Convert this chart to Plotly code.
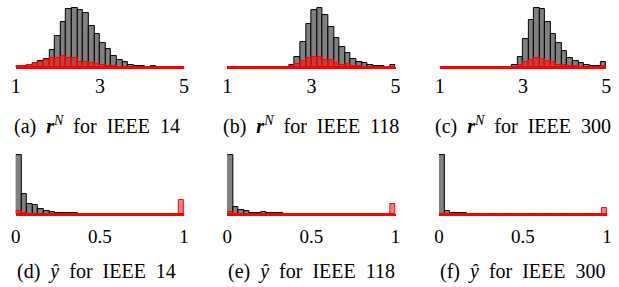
import numpy as np
import plotly.graph_objects as go

# ---------------- data (30 bins per histogram) ----------------
rn_range = [1, 5]
yh_range = [0, 1]
n_bins = 30

rn14_all = [1, 4, 7, 13, 18, 25, 52, 92, 135, 174, 178, 171, 162, 124, 99,
            72, 54, 33, 21, 16, 6, 4, 4, 1, 2, 1, 1, 0, 1, 0]
rn14_red = [2, 4, 7, 13, 16, 20, 27, 27, 33, 27, 27, 16, 16, 13, 9,
            7, 4, 4, 1, 1, 1, 0, 0, 0, 0, 0, 0, 0, 0, 0]
rn118_all = [0, 0, 0, 0, 0, 0, 0, 0, 0, 0, 1, 6, 30, 75, 130,
             171, 178, 157, 121, 88, 60, 42, 25, 16, 11, 7, 4, 3, 1, 7]
rn118_red = [0, 0, 0, 0, 0, 0, 0, 0, 0, 0, 0, 4, 10, 18, 26,
             30, 30, 22, 21, 12, 6, 8, 4, 3, 1, 1, 0, 0, 0, 1]
rn300_all = [0, 0, 0, 0, 0, 0, 0, 0, 0, 0, 0, 0, 0, 6, 30,
             83, 142, 178, 174, 135, 98, 72, 49, 26, 18, 11, 6, 3, 3, 15]
rn300_red = [0, 0, 0, 0, 0, 0, 0, 0, 0, 0, 0, 0, 0, 1, 5,
             16, 21, 27, 24, 17, 15, 6, 5, 3, 3, 1, 1, 0, 0, 4]

yh14_all = [177, 59, 29, 28, 14, 9, 7, 3, 3, 3, 3, 1, 1, 1, 1,
            1, 1, 0, 0, 1, 1, 0, 1, 1, 0, 0, 0, 1, 1, 0]
yh14_red = [9, 3, 1, 1, 1, 0, 0, 0, 0, 0, 0, 0, 0, 0, 0,
            0, 0, 0, 0, 0, 0, 0, 0, 0, 0, 0, 0, 0, 0, 42]
yh118_all = [177, 22, 13, 9, 4, 3, 6, 3, 3, 2, 1, 1, 1, 1, 1,
             0, 0, 0, 0, 0, 0, 0, 0, 0, 0, 0, 1, 1, 0, 0]
yh118_red = [6, 1, 0, 0, 0, 0, 0, 0, 0, 0, 0, 0, 0, 0, 0,
             0, 0, 0, 0, 0, 0, 0, 0, 0, 0, 0, 0, 0, 0, 29]
yh300_all = [177, 9, 4, 2, 2, 1, 1, 1, 0, 0, 0, 0, 0, 0, 0,
             0, 0, 0, 0, 0, 0, 0, 0, 0, 0, 0, 0, 0, 0, 0]
yh300_red = [1, 0, 0, 0, 0, 0, 0, 0, 0, 0, 0, 0, 0, 0, 0,
             0, 0, 0, 0, 0, 0, 0, 0, 0, 0, 0, 0, 0, 0, 17]

rn_ticks = [1, 3, 5]
rn_ticktext = ["1", "3", "5"]
yh_ticks = [0, 0.5, 1]
yh_ticktext = ["0", "0.5", "1"]

NB = "\u00a0"
S2 = NB * 2
captions = [
    f"(a){S2}<b><i>r</i></b><sup><i>N</i></sup>{S2}for{S2}IEEE{S2}14",
    f"(b){S2}<b><i>r</i></b><sup><i>N</i></sup>{S2}for{S2}IEEE{S2}118",
    f"(c){S2}<b><i>r</i></b><sup><i>N</i></sup>{S2}for{S2}IEEE{S2}300",
    f"(d){S2}<i>ŷ</i>{S2}for{S2}IEEE{S2}14",
    f"(e){S2}<i>ŷ</i>{S2}for{S2}IEEE{S2}118",
    f"(f){S2}<i>ŷ</i>{S2}for{S2}IEEE{S2}300",
]

panels = [
    (rn_range, rn14_all, rn14_red),
    (rn_range, rn118_all, rn118_red),
    (rn_range, rn300_all, rn300_red),
    (yh_range, yh14_all, yh14_red),
    (yh_range, yh118_all, yh118_red),
    (yh_range, yh300_all, yh300_red),
]

# ---------------- layout geometry ----------------
W, H = 619, 287
SERIF = "Liberation Serif, Times New Roman, serif"
xdom_px = [(11, 182), (226, 397), (442, 611), (11, 182), (226, 397), (441, 612)]
cap_dx = [-3, 0, 0, -3, 0, 0]
top_base, bot_base = 67, 214
bar_px = 59  # pixel height of the tallest bar

fig = go.Figure()
for i, (rng, all_v, red_v) in enumerate(panels):
    k = "" if i == 0 else str(i + 1)
    edges = np.linspace(rng[0], rng[1], n_bins + 1)
    centers = (edges[:-1] + edges[1:]) / 2
    bw = edges[1] - edges[0]
    all_arr = np.array(all_v, dtype=float)
    red_arr = np.array(red_v, dtype=float)
    fig.add_trace(go.Bar(x=centers, y=all_arr, width=bw,
                         marker=dict(color="rgb(128,128,128)",
                                     line=dict(color="black", width=1)),
                         xaxis="x" + k, yaxis="y" + k, showlegend=False))
    fig.add_trace(go.Bar(x=centers, y=red_arr, width=bw,
                         marker=dict(color="rgba(255,0,0,0.5)",
                                     line=dict(color="red", width=1)),
                         xaxis="x" + k, yaxis="y" + k, showlegend=False))
    ymax = max(all_arr.max(), red_arr.max()) * 1.05
    base = top_base if i < 3 else bot_base
    ytop = base - bar_px * 1.05
    x0, x1 = xdom_px[i]
    top_row = i < 3
    fig.update_layout(**{
        "xaxis" + k: dict(domain=[x0 / W, x1 / W], range=rng, anchor="y" + k,
                          tickvals=rn_ticks if top_row else yh_ticks,
                          ticktext=rn_ticktext if top_row else yh_ticktext,
                          ticks="", showgrid=False, zeroline=False,
                          showline=True, linecolor="red", linewidth=1.5,
                          layer="above traces",
                          ticklabelstandoff=0 if top_row else 4,
                          tickfont=dict(family=SERIF, size=20 if top_row else 19,
                                        color="black")),
        "yaxis" + k: dict(domain=[(H - base) / H, (H - ytop) / H], range=[0, ymax],
                          anchor="x" + k, visible=False),
    })
    cy = 126 if top_row else 271
    fig.add_annotation(text=captions[i], xref="paper", yref="paper",
                       x=((x0 + x1) / 2 + cap_dx[i]) / W, y=(H - cy) / H,
                       xanchor="center", yanchor="middle", showarrow=False,
                       font=dict(family=SERIF, size=20, color="black"))

fig.update_layout(width=W, height=H, margin=dict(l=0, r=0, t=0, b=0),
                  barmode="overlay", bargap=0,
                  paper_bgcolor="white", plot_bgcolor="white")
fig.write_html("out.html", config={"displayModeBar": False},
               post_script="document.body.style.margin='0';"
                           "document.body.style.padding='0';")
